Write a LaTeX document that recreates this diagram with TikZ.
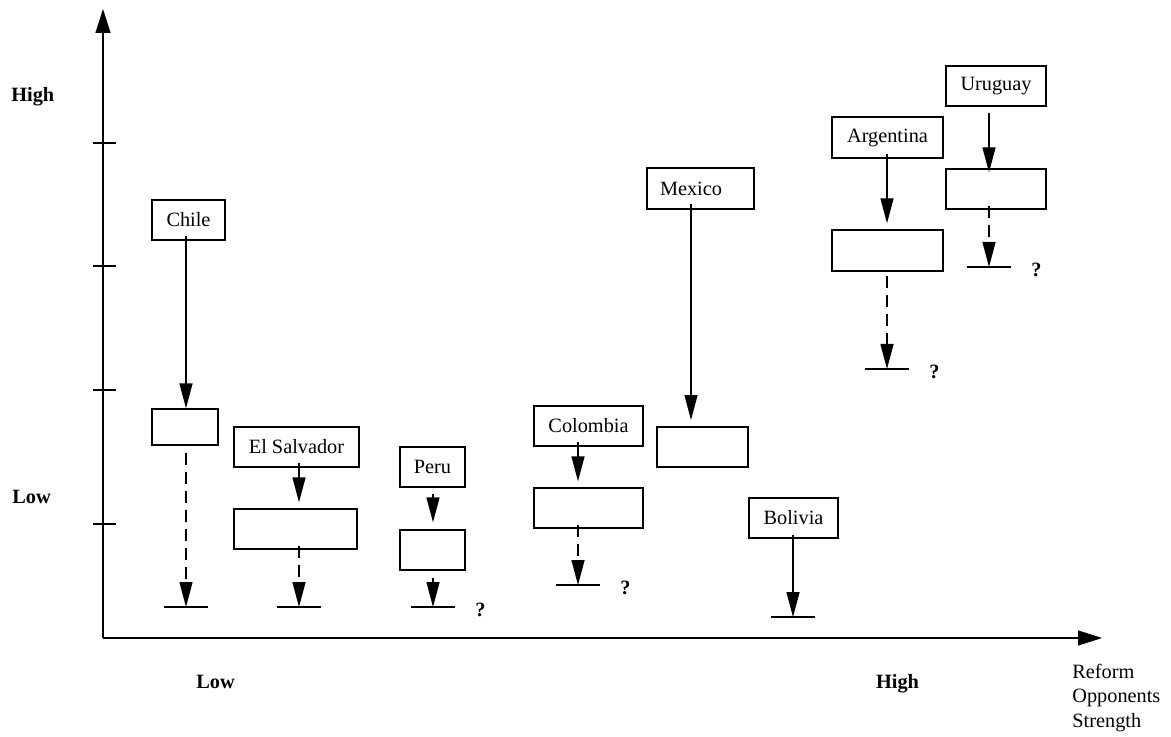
\documentclass[tikz,border=0pt]{standalone}
\usepackage{fontspec}
\setmainfont{Liberation Serif}
\usetikzlibrary{arrows.meta,positioning}

\begin{document}
\begin{tikzpicture}[x=0.5pt,y=-0.5pt,
	every node/.style={font=\fontsize{10.15}{12.25}\selectfont},
	box/.style={draw,line width=0.7pt,inner sep=0pt,minimum height=20pt},
	lab/.style={font=\fontsize{10.15}{12.25}\selectfont\bfseries,inner sep=0pt},
	axis/.style={line width=0.7pt,-{Triangle[length=12pt,width=7.5pt]}},
	arr/.style={line width=0.7pt,-{Triangle[length=12.5pt,width=6.5pt]}},
	dsh/.style={arr,dash pattern=on 6pt off 3.5pt},
	bar/.style={line width=0.7pt},
	qmark/.style={font=\fontsize{10.15}{12.25}\selectfont\bfseries,inner sep=0pt,right=21pt of #1,yshift=-1.5pt}]
	\useasboundingbox (0,0) rectangle (1171,737);
	
	% axes
	\coordinate (O) at (103,638);
	\coordinate (ytip) at (103,9);
	\coordinate (xtip) at (1102,638);
	\draw[axis] (O) -- (ytip);
	\draw[axis] (O) -- (xtip);
	\foreach \t in {143,266,390,524}
		\draw[bar] (93,\t) -- (116,\t);
	
	% axis labels
	\node[lab, anchor=base west] (yHigh) at (11,102) {High};
	\node[lab, anchor=base west] (yLow) at (12,503) {Low};
	\node[lab, anchor=base] (xLow) at (215.5,688) {Low};
	\node[lab, anchor=base] (xHigh) at (897.5,688) {High};
	\node[anchor=base west, align=left, inner sep=0pt] (xTitle) at (1072,727) {Reform\\Opponents\\Strength};
	
	% end points of the arrows
	\coordinate (chileBar) at (186,607);
	\coordinate (salvBar) at (299,607);
	\coordinate (peruBar) at (433,607);
	\coordinate (coloBar) at (578,585);
	\coordinate (mexicoTip) at (691,420);
	\coordinate (boliviaBar) at (793,617);
	\coordinate (argenBar) at (887,369);
	\coordinate (uruBar) at (989,267);
	
	% chile
	\node[box, minimum width=36.5pt] (chile) at (188.5,220) {Chile};
	\node[box, minimum width=33pt, minimum height=18pt] (chileLow) at (185,427) {};
	\draw[arr, shorten <=-2.5pt] (chile.south -| chileBar) -- (chileLow.north -| chileBar);
	\draw[dsh, shorten <=3.5pt] (chileLow.south -| chileBar) -- (chileBar);
	
	% el salvador
	\node[box, minimum width=62.5pt] (salv) at (296.5,447) {El Salvador};
	\node[box, minimum width=61.5pt] (salvLow) at (295.5,529) {};
	\draw[arr, shorten <=-2.5pt, shorten >=3pt] (salv.south -| salvBar) -- (salvLow.north -| salvBar);
	\draw[dsh, shorten <=-2pt] (salvLow.south -| salvBar) -- (salvBar);
	
	% peru
	\node[box, minimum width=32.5pt] (peru) at (432.5,467) {Peru};
	\node[box, minimum width=32.5pt] (peruLow) at (432.5,550) {};
	\draw[arr, shorten <=3pt, shorten >=3.5pt] (peru.south -| peruBar) -- (peruLow.north -| peruBar);
	\draw[dsh, shorten <=3.5pt] (peruLow.south -| peruBar) -- (peruBar);
	\node[qmark=peruBar] (peruQ) {?};
	
	% colombia
	\node[box, minimum width=54.5pt] (colo) at (588.5,426) {Colombia};
	\node[box, minimum width=54.5pt] (coloLow) at (588.5,508) {};
	\draw[arr, shorten <=-2.5pt, shorten >=3pt] (colo.south -| coloBar) -- (coloLow.north -| coloBar);
	\draw[dsh, shorten <=-2pt] (coloLow.south -| coloBar) -- (coloBar);
	\node[qmark=coloBar] (coloQ) {?};
	
	% mexico
	\node[box, minimum height=20.5pt, text width=40.5pt, align=left, inner xsep=6.5pt] (mexico) at (700.5,188.5) {Mexico};
	\node[box, minimum width=45.5pt] (mexicoLow) at (702.5,447) {};
	\draw[arr, shorten <=-3pt] (mexico.south -| mexicoTip) -- (mexicoTip);
	
	% bolivia
	\node[box, minimum width=44.5pt] (bolivia) at (793.5,518) {Bolivia};
	\draw[arr, shorten <=-2pt] (bolivia.south -| boliviaBar) -- (boliviaBar);
	
	% argentina
	\node[box, minimum width=55.5pt, minimum height=20.5pt] (argen) at (887.5,137.5) {Argentina};
	\node[box, minimum width=55.5pt, minimum height=20.5pt] (argenLow) at (887.5,250.5) {};
	\draw[arr, shorten <=-2.5pt, shorten >=3pt] (argen.south -| argenBar) -- (argenLow.north -| argenBar);
	\draw[dsh, shorten <=2pt] (argenLow.south -| argenBar) -- (argenBar);
	\node[qmark=argenBar] (argenQ) {?};
	
	% uruguay
	\node[box, minimum width=50pt] (uru) at (996,86) {Uruguay};
	\node[box, minimum width=50pt] (uruLow) at (996,189) {};
	\draw[arr, shorten <=3pt, shorten >=-2pt] (uru.south -| uruBar) -- (uruLow.north -| uruBar);
	\draw[dsh, shorten <=-2pt] (uruLow.south -| uruBar) -- (uruBar);
	\node[qmark=uruBar] (uruQ) {?};
	
	% bars under the arrows
	\foreach \b in {chileBar,salvBar,peruBar,coloBar,boliviaBar,argenBar,uruBar}
		\draw[bar] ([xshift=-11pt]\b) -- ([xshift=11pt]\b);
\end{tikzpicture}
\end{document}
